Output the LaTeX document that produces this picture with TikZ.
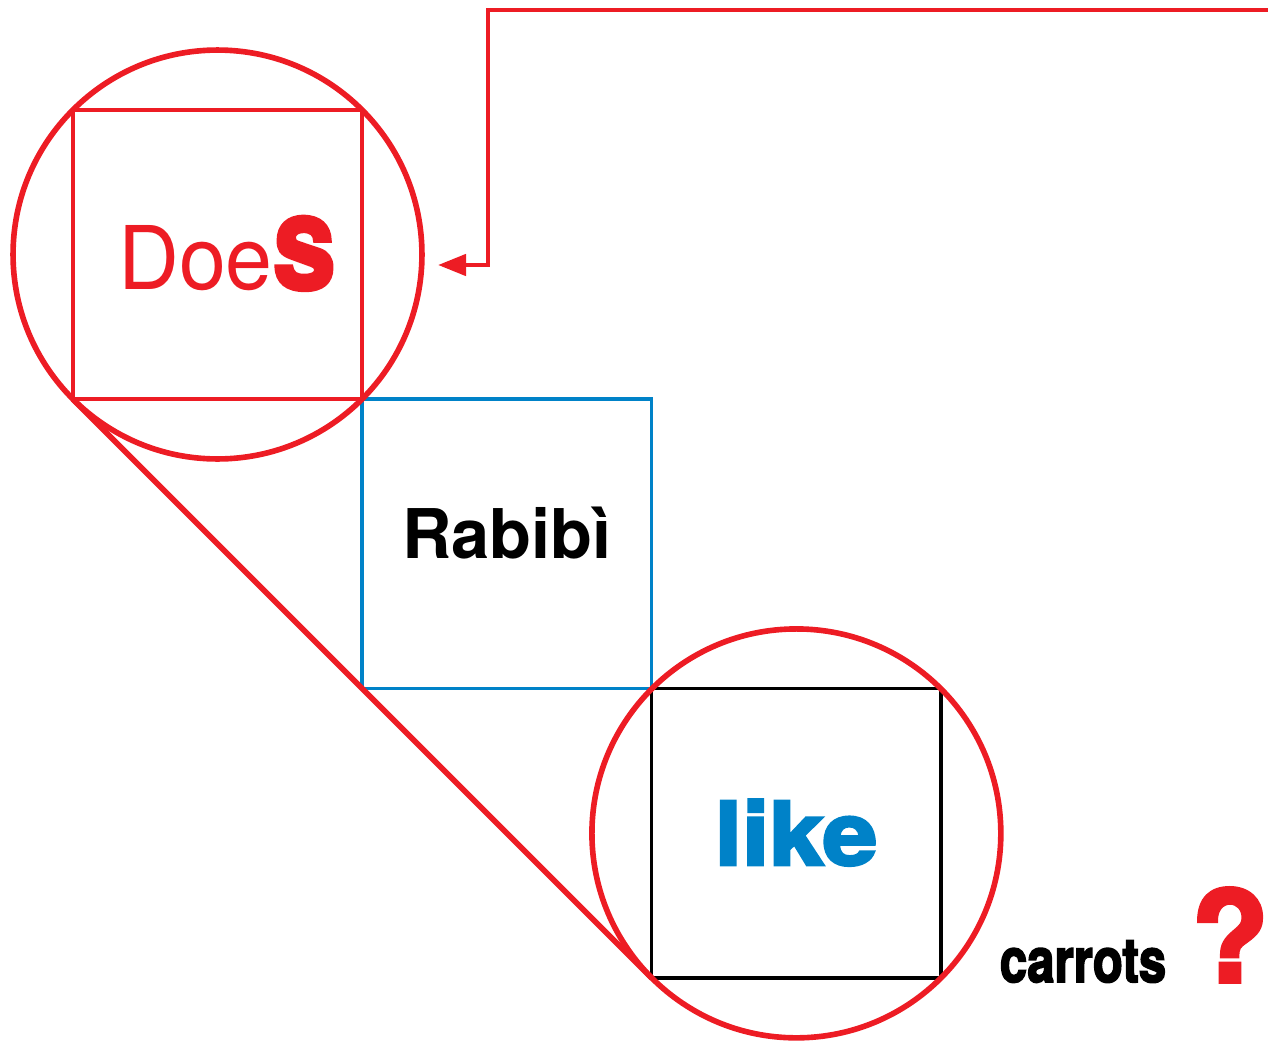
\documentclass[tikz,border=0pt]{standalone}
\usepackage{fontspec}
\setmainfont{TeX Gyre Heros}
\newfontfamily\heavyfont[BoldFeatures={FakeBold=3}]{TeX Gyre Heros}
\newcommand{\heavy}{\heavyfont\bfseries}
\usetikzlibrary{arrows.meta, positioning, calc}
\definecolor{zoomred}{RGB}{237,28,36}
\definecolor{likeblue}{RGB}{0,130,200}
\tikzset{
  % square frames
  frame/.style={
    rectangle, minimum size=5.79cm, inner sep=0pt, outer sep=0pt,
    line width=2pt
  },
  redsquare/.style={frame, draw=zoomred},
  bluesquare/.style={frame, draw=likeblue},
  blacksquare/.style={frame, draw=black},
  % magnifier ring
  zoomring/.style={
    circle, minimum size=8.18cm, inner sep=0pt, outer sep=0pt,
    draw=zoomred, line width=3.2pt
  },
  % zoom line between the rings
  zoomline/.style={
    draw=zoomred, line width=3.2pt
  },
  % feed arrow from the right edge
  feedarr/.style={
    -{Triangle[length=16pt, width=12pt]}, draw=zoomred, line width=2.6pt
  },
  % word labels
  word/.style={anchor=base, inner sep=0pt},
}

\begin{document}
\begin{tikzpicture}[x=0.02cm, y=-0.02cm]
\useasboundingbox (0,0) rectangle (1268,1045);

%% ── SQUARES (diagonal staircase) ─────────────────────────────────────────

\node[redsquare] (doesbox) at (217.5,254.5) {};
\node[bluesquare, below right=0pt of doesbox] (rabibox) {};
\node[blacksquare, below right=0pt of rabibox] (likebox) {};

%% ── MAGNIFIER RINGS ──────────────────────────────────────────────────────

\node[zoomring] (topring) at (doesbox.center) {};
\node[zoomring] (bottomring) at (likebox.center) {};

%% ── WORDS ────────────────────────────────────────────────────────────────

\node[word, text=zoomred] (does) at (227,289)
  {\fontsize{50}{60}\selectfont\scalebox{0.96}[1]{Doe}%
   \scalebox{0.86}[1]{\heavy\fontsize{75}{80}\selectfont s}};

\node[word, font=\bfseries\fontsize{39}{46}\selectfont] (rabibi) at (507,558)
  {Rabib\`{\i}};

\node[word, text=likeblue] (like) at (796,865)
  {\scalebox{1.12}[1]{\heavy\fontsize{50}{60}\selectfont like}};

\node[word] (carrots) at (1083,982)
  {\scalebox{0.8}[1]{\heavy\fontsize{35}{42}\selectfont carrots}};

\node[word, text=zoomred, font=\heavy\fontsize{72}{80}\selectfont] (query) at (1230,982)
  {?};

%% ── CONNECTORS ───────────────────────────────────────────────────────────

\draw[zoomline] (doesbox.south west) -- (likebox.south west);

\coordinate (feedin) at (1268,10);
\coordinate (feedtip) at (438,265);
\draw[feedarr] (feedin) -- ++(-780,0) |- (feedtip);

\end{tikzpicture}
\end{document}
